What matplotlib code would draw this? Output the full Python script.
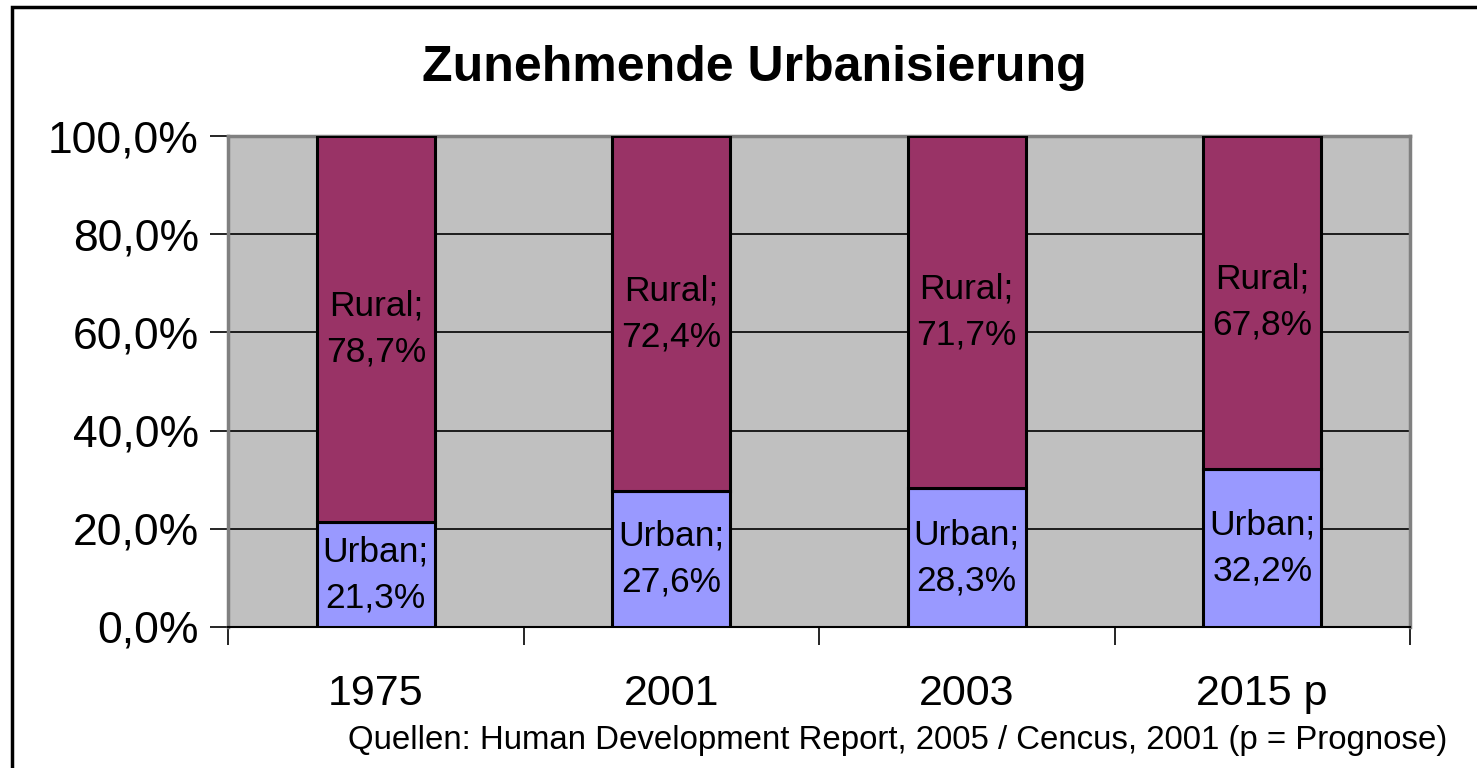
import matplotlib
matplotlib.use("Agg")
import matplotlib.pyplot as plt
import matplotlib.patches as patches
from matplotlib.ticker import FuncFormatter

plt.rcParams["font.family"] = ["Liberation Sans", "DejaVu Sans"]

# data
years = ["1975", "2001", "2003", "2015 p"]
urban = [21.3, 27.6, 28.3, 32.2]
rural = [78.7, 72.4, 71.7, 67.8]
y_ticks = [0, 20, 40, 60, 80, 100]

W, H = 1477, 768
fig = plt.figure(figsize=(W / 100, H / 100), dpi=100)
ax = fig.add_axes([228 / W, 1 - 627 / H, (1410 - 228) / W, (627 - 136) / H])
ax.set_facecolor("#C0C0C0")

x = list(range(len(years)))
bw = 0.4
ax.bar(x, urban, width=bw, color="#9999FF", edgecolor="black", linewidth=2.2, zorder=3)
ax.bar(x, rural, width=bw, bottom=urban, color="#993366", edgecolor="black", linewidth=2.2, zorder=3)

for i in x:
    ax.text(i, urban[i] / 2, "Urban;\n" + f"{urban[i]:.1f}%".replace(".", ","),
            ha="center", va="center", fontsize=25.5, linespacing=1.5, zorder=4)
    ax.text(i, urban[i] + rural[i] / 2, "Rural;\n" + f"{rural[i]:.1f}%".replace(".", ","),
            ha="center", va="center", fontsize=25.5, linespacing=1.5, zorder=4)

ax.set_xlim(-0.5, len(years) - 0.5)
ax.set_ylim(0, 100)
ax.set_yticks(y_ticks)
ax.yaxis.set_major_formatter(FuncFormatter(lambda v, p: f"{v:.1f}%".replace(".", ",")))
ax.yaxis.grid(True, color="black", linewidth=1.2, zorder=1)
ax.set_axisbelow(True)
ax.tick_params(axis="y", length=13, width=1.2, labelsize=32, pad=8)

# category ticks sit between the bars, labels in the middle
ax.set_xticks([i - 0.5 for i in range(len(years) + 1)])
ax.set_xticklabels([])
ax.set_xticks(x, minor=True)
ax.set_xticklabels(years, minor=True, fontsize=31)
ax.tick_params(axis="x", which="major", length=13, width=1.2)
ax.tick_params(axis="x", which="minor", length=0, pad=34)

for s in ["top", "right"]:
    ax.spines[s].set_color("#808080")
    ax.spines[s].set_linewidth(2.5)
ax.spines["left"].set_color("#808080")
ax.spines["left"].set_linewidth(2.5)
ax.spines["bottom"].set_color("black")
ax.spines["bottom"].set_linewidth(1.5)

fig.text(754 / W, 1 - 68 / H, "Zunehmende Urbanisierung", ha="center", va="center",
         fontsize=36, fontweight="bold")
fig.text(1447 / W, 1 - 740 / H,
         "Quellen: Human Development Report, 2005 / Cencus, 2001 (p = Prognose)",
         ha="right", va="center", fontsize=23.8)

# outer frame of the chart
fig.patches.append(patches.Rectangle((11.5 / W, -0.1), 1.2, 1 - 7.5 / H + 0.1,
                                     transform=fig.transFigure, fill=False,
                                     edgecolor="black", linewidth=2.5))

fig.savefig("out.png", dpi=100)
